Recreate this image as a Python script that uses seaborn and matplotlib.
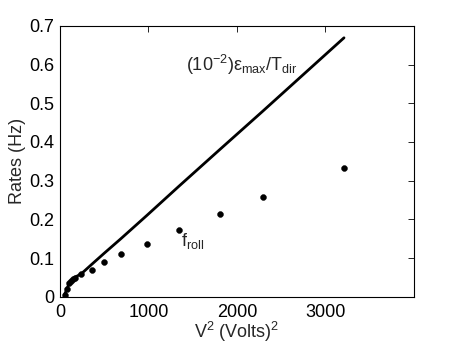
import matplotlib
matplotlib.use("Agg")
import matplotlib.pyplot as plt
import seaborn as sns
import pandas as pd

# measured roll frequency (points)
v2 = [56, 83, 101, 124, 143, 173, 244, 365, 500, 688, 981, 1349, 1804, 2289, 3209]
f_roll = [0.004, 0.020, 0.035, 0.040, 0.045, 0.050, 0.059, 0.069, 0.090, 0.1095,
          0.136, 0.172, 0.2137, 0.258, 0.3325]

# (1e-2) eps_max / T_dir curve
line_v2 = [56, 83, 101, 124, 143, 173, 244, 365, 500, 688, 981, 1349, 1804, 2289, 3209]
line_rate = [0.008, 0.021, 0.034, 0.041, 0.046, 0.051, 0.060, 0.085, 0.1125, 0.150,
             0.210, 0.2866, 0.380, 0.479, 0.669]

x_ticks = [0, 1000, 2000, 3000]
y_ticks = [0, 0.1, 0.2, 0.3, 0.4, 0.5, 0.6, 0.7]
y_tick_labels = ["0", "0.1", "0.2", "0.3", "0.4", "0.5", "0.6", "0.7"]

pts = pd.DataFrame({"v2": v2, "rate": f_roll})
curve = pd.DataFrame({"v2": line_v2, "rate": line_rate})

sns.set_style("white")
plt.rcParams['font.family'] = ['Liberation Sans', 'DejaVu Sans']
plt.rcParams['mathtext.fontset'] = 'custom'
plt.rcParams['mathtext.rm'] = 'Liberation Sans'
plt.rcParams['mathtext.it'] = 'Liberation Sans'

fig = plt.figure(figsize=(4.57, 3.44), dpi=100)
ax = fig.add_axes([0.131, 0.137, 0.775, 0.788])

sns.lineplot(data=curve, x="v2", y="rate", color="black", linewidth=2, ax=ax)
sns.scatterplot(data=pts, x="v2", y="rate", color="black", s=18, edgecolor="black", ax=ax)

ax.set_xlim(0, 4000)
ax.set_ylim(0, 0.7)
ax.set_xticks(x_ticks)
ax.set_xticklabels([str(t) for t in x_ticks])
ax.set_yticks(y_ticks)
ax.set_yticklabels(y_tick_labels)
ax.tick_params(direction="in", top=True, right=True, length=4, width=0.6,
               labelsize=13, colors="black")
ax.tick_params(axis="x", pad=5)
ax.tick_params(axis="y", pad=4)
for s in ax.spines.values():
    s.set_linewidth(0.8)
    s.set_color("black")

ax.set_xlabel(r"V$^{2}$ (Volts)$^{2}$", fontsize=13, labelpad=-1)
ax.set_ylabel("Rates (Hz)", fontsize=13, labelpad=2)

ax.text(1420, 0.60, r"(10$^{-2}$)$\mathrm{\varepsilon}_{\mathrm{max}}$/T$_{\mathrm{dir}}$",
        fontsize=13, va="center", ha="left")
ax.text(1370, 0.145, r"f$_{\mathrm{roll}}$", fontsize=13, va="center", ha="left")

fig.savefig("out.png", dpi=100)
